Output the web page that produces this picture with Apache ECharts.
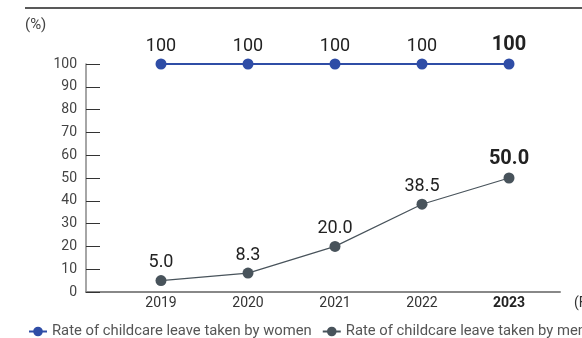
<!DOCTYPE html>
<html>
<head>
<meta charset="utf-8">
<script src="https://cdn.jsdelivr.net/npm/echarts@6/dist/echarts.min.js"></script>
<style>
html,body{margin:0;padding:0;overflow:hidden;background:#fff;width:582px;height:338px;}
#c{width:800px;height:338px;}
</style>
</head>
<body>
<div id="c"></div>
<script>
var years = [2019, 2020, 2021, 2022, 2023];
var womenRate = [100, 100, 100, 100, 100];
var menRate = [5.0, 8.3, 20.0, 38.5, 50.0];
var yTicks = [0, 10, 20, 30, 40, 50, 60, 70, 80, 90, 100];
var seriesNames = ['Rate of childcare leave taken by women', 'Rate of childcare leave taken by men'];

var FONT = 'Roboto';
var chart = echarts.init(document.getElementById('c'), null, {renderer: 'canvas'});

function mkData(vals, digits) {
  return vals.map(function (v, i) {
    var last = i === vals.length - 1;
    return {
      value: [years[i], v],
      label: {
        formatter: v.toFixed(digits),
        fontWeight: last ? 'bold' : 'normal',
        fontSize: last ? 20 : 18
      }
    };
  });
}

chart.setOption({
  animation: false,
  textStyle: {fontFamily: FONT},
  grid: {left: 86, top: 64, right: 800 - 560, bottom: 46, containLabel: false},
  xAxis: {
    type: 'value',
    min: 2019 - 75 / 87,
    max: 2019 + (560 - 161) / 87,
    name: '(FY)',
    nameLocation: 'end',
    nameGap: 14,
    nameTextStyle: {color: '#333', fontSize: 14, fontFamily: FONT, verticalAlign: 'top', padding: [4, 0, 0, 0]},
    splitLine: {show: false},
    axisLine: {lineStyle: {color: '#888', width: 2}},
    axisTick: {show: false},
    axisLabel: {
      customValues: years,
      margin: 4,
      color: '#333',
      fontSize: 14,
      fontFamily: FONT,
      formatter: function (v) {
        return v === years[years.length - 1] ? '{b|' + v + '}' : String(v);
      },
      rich: {b: {fontWeight: 'bold', fontSize: 14, color: '#222', fontFamily: FONT}}
    }
  },
  yAxis: {
    type: 'value',
    min: 0,
    max: 100,
    interval: 10,
    splitLine: {show: false},
    axisLine: {show: true, lineStyle: {color: '#888', width: 1.5}},
    axisTick: {show: true, inside: true, length: 14, lineStyle: {color: '#333', width: 1}},
    axisLabel: {
      margin: 9,
      color: '#444',
      fontSize: 14,
      fontFamily: FONT,
      formatter: function (v) { return yTicks.indexOf(v) >= 0 ? String(v) : ''; }
    }
  },
  legend: {
    left: 28,
    top: 324,
    padding: 0,
    itemWidth: 18,
    itemHeight: 12,
    itemGap: 10,
    textStyle: {color: '#555', fontSize: 14.8, fontFamily: FONT},
    data: seriesNames
  },
  graphic: [
    {type: 'line', shape: {x1: 25, y1: 8, x2: 800, y2: 8}, style: {stroke: '#222', lineWidth: 1.5}},
    {type: 'text', left: 25, top: 18, style: {text: '(%)', fill: '#444', fontSize: 15, fontFamily: FONT}}
  ],
  series: [
    {
      name: seriesNames[0],
      type: 'line',
      data: mkData(womenRate, 0),
      symbol: 'circle',
      symbolSize: 11,
      itemStyle: {color: '#2f4da6'},
      lineStyle: {color: '#2f4da6', width: 2},
      label: {show: true, position: 'top', distance: 3.5, color: '#222', fontFamily: FONT}
    },
    {
      name: seriesNames[1],
      type: 'line',
      data: mkData(menRate, 1),
      symbol: 'circle',
      symbolSize: 11,
      itemStyle: {color: '#48535b'},
      lineStyle: {color: '#48535b', width: 1.2},
      label: {show: true, position: 'top', distance: 3.5, color: '#222', fontFamily: FONT}
    }
  ]
});
</script>
</body>
</html>
